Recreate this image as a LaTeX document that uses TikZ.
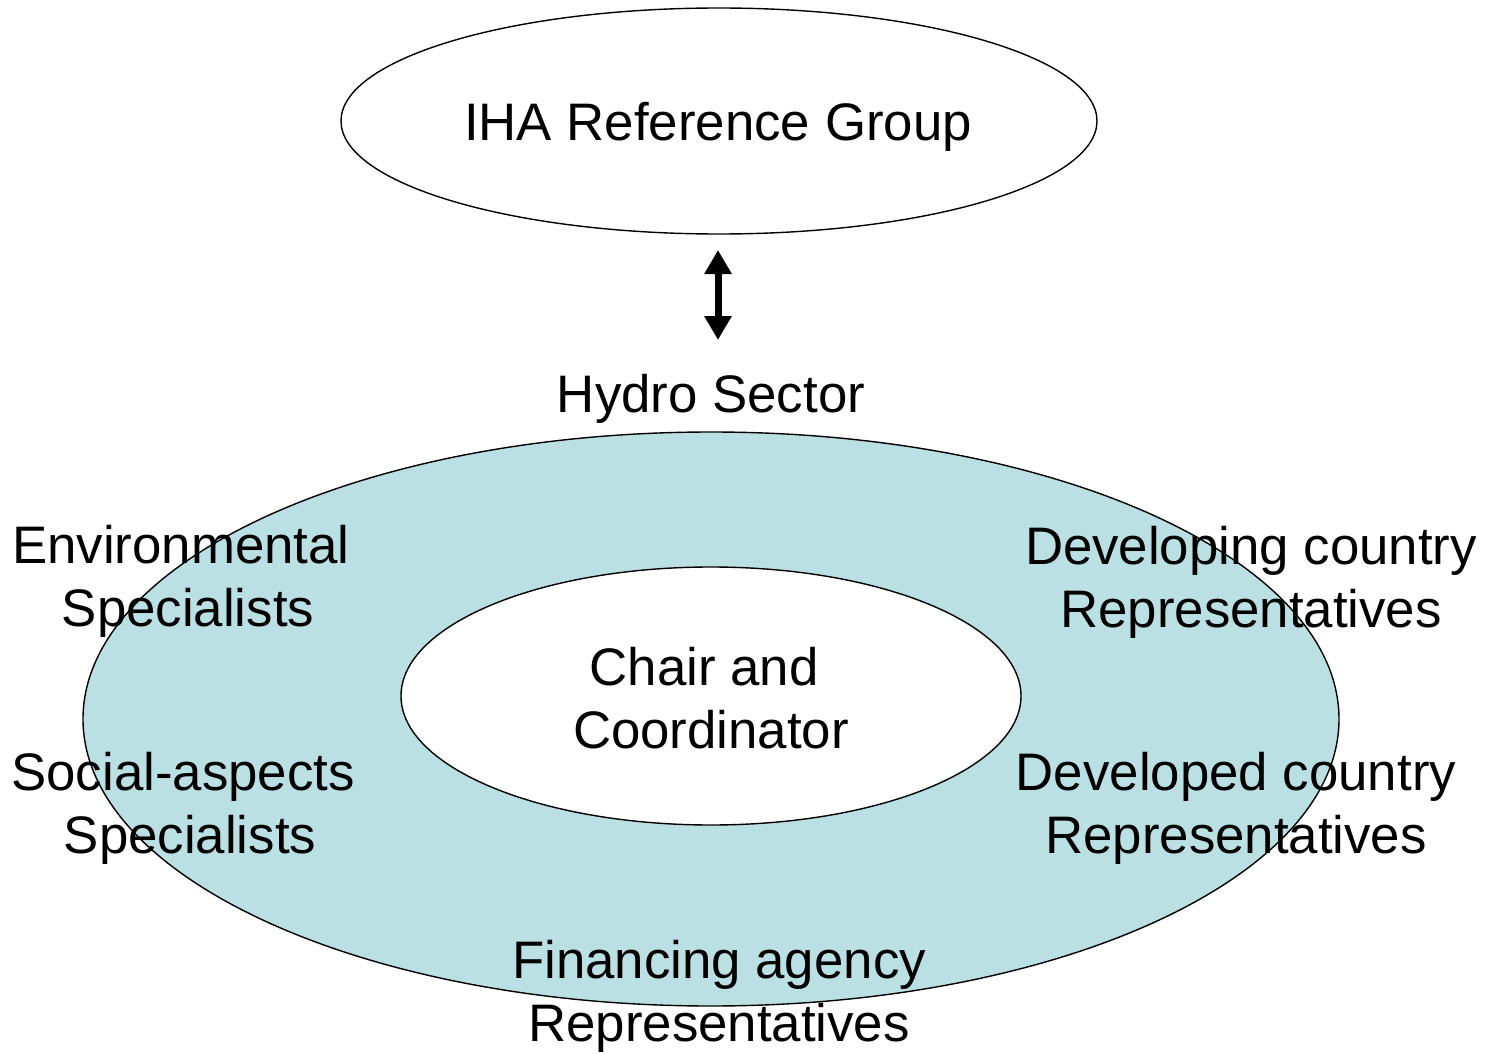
\documentclass[tikz,border=0pt]{standalone}
\usepackage{fontspec}
\setmainfont{Liberation Sans}
\usetikzlibrary{shapes.geometric,arrows.meta}
\definecolor{ringfill}{HTML}{BBE0E3}
\begin{document}
\begin{tikzpicture}[x=0.5pt,y=-0.5pt,
  lbl/.style={align=center,font=\fontsize{26.4}{31.5}\selectfont,inner sep=0pt},
  ell/.style={ellipse,draw=black,line width=0.7pt,inner sep=0pt}]
\useasboundingbox (0,0) rectangle (1485,1054);
\node[ell,minimum width=378pt,minimum height=113pt] (top) at (719,121) {};
\node[ell,fill=ringfill,minimum width=628pt,minimum height=287pt] (ring) at (711,719) {};
\node[ell,fill=white,minimum width=310pt,minimum height=129pt] (inner) at (711,696) {};
\node[lbl] (iha) at (718,127) {IHA Reference Group};
\node[lbl] (hydro) at (711,399) {Hydro Sector};
\node[lbl] (env) at (181,581) {Environmental\\\hspace*{7pt}Specialists};
\node[lbl] (soc) at (183,808) {Social-aspects\\\hspace*{7pt}Specialists};
\node[lbl] (dev1) at (1251,582) {Developing country\\Representatives};
\node[lbl] (dev2) at (1236,808) {Developed country\\Representatives};
\node[lbl] (fin) at (719,996) {Financing agency\\Representatives};
\node[lbl] (chair) at (711,698) {Chair and\hspace*{7pt}\\Coordinator};
\coordinate (a1) at (718,250);
\coordinate (a2) at (718,340);
\draw[line width=3.5pt,{Triangle[width=13pt,length=12pt]}-{Triangle[width=13pt,length=12pt]}] (a1) -- (a2);
\end{tikzpicture}
\end{document}
